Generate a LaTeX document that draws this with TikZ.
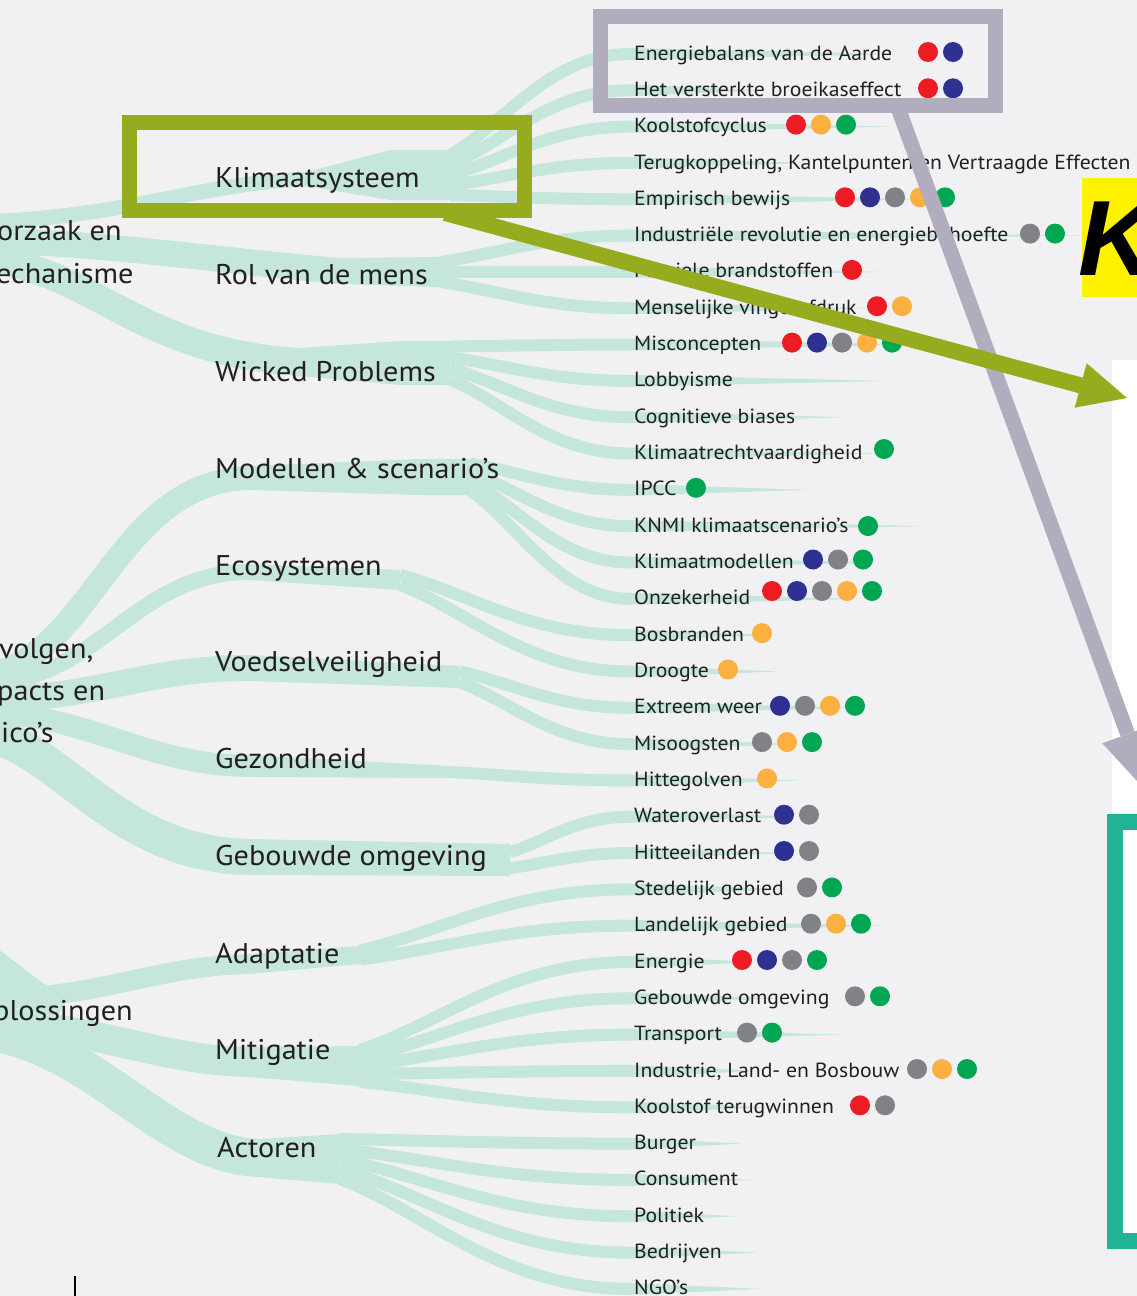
\documentclass[tikz,border=0pt]{standalone}
\usepackage{fontspec}
\setmainfont{PT Sans}[FakeStretch=1.06]
\newfontfamily\kfont{Liberation Sans}
\definecolor{bgc}{HTML}{F1F1F3}
\definecolor{ribc}{HTML}{C5E6DA}
\definecolor{txt}{HTML}{231F20}
\definecolor{dred}{HTML}{ED1C24}
\definecolor{dblue}{HTML}{2E3192}
\definecolor{dgray}{HTML}{808285}
\definecolor{dorange}{HTML}{FBB040}
\definecolor{dgreen}{HTML}{00A651}
\definecolor{olivec}{HTML}{97AB1F}
\definecolor{lavc}{HTML}{B1ADBE}
\definecolor{tealc}{HTML}{20B497}
\begin{document}
\begin{tikzpicture}[x=1pt,y=-1pt,
  rib/.style={draw=ribc, line cap=butt},
  leaf/.style={anchor=base west, inner sep=0pt, text=txt, font=\fontsize{20.5}{24}\selectfont},
  mid/.style={anchor=base west, inner sep=0pt, text=txt, font=\fontsize{28.5}{34}\selectfont},
  rootlbl/.style={anchor=base west, inner sep=0pt, text=txt, font=\fontsize{28.5}{34}\selectfont}]
\useasboundingbox (0,0) rectangle (1137,1296);
\clip (0,0) rectangle (1137,1296);
\fill[bgc] (0,0) rectangle (1137,1296);

% ---------- trunks ----------
\draw[rib, line width=15pt] (-30,222) .. controls (120,220) and (200,182) .. (310,179);
\fill[ribc] (309,171.5) -- (390,150) -- (450,150) -- (450,200) -- (390,200) -- (309,186.5) -- cycle;
\draw[rib, line width=26pt] (-30,240) .. controls (100,242) and (230,262) .. (340,271);
\fill[ribc] (339,258) -- (440,257) -- (440,287) -- (339,284) -- cycle;
\draw[rib, line width=28pt] (-30,258) .. controls (90,262) and (130,352) .. (300,362);
\fill[ribc] (299,348) -- (400,341) -- (450,341) -- (450,385) -- (400,385) -- (299,376) -- cycle;
\draw[rib, line width=24pt] (-30,676) .. controls (90,676) and (110,480) .. (250,478);
\fill[ribc] (249,466) -- (420,459) -- (470,459) -- (470,495) -- (420,495) -- (249,490) -- cycle;
\draw[rib, line width=16pt] (-30,686) .. controls (100,686) and (130,572) .. (250,572);
\fill[ribc] (249,564) -- (400,570) -- (400,590) -- (249,580) -- cycle;
\draw[rib, line width=26pt] (-30,700) .. controls (100,700) and (140,668) .. (250,668);
\fill[ribc] (249,655) -- (460,666) -- (460,688) -- (249,681) -- cycle;
\draw[rib, line width=22pt] (-30,712) .. controls (90,712) and (140,765) .. (250,766);
\fill[ribc] (249,755) -- (450,766) -- (450,778) -- (249,777) -- cycle;
\draw[rib, line width=36pt] (-30,730) .. controls (60,740) and (110,855) .. (250,857);
\fill[ribc] (249,839) -- (510,844) -- (510,876) -- (249,875) -- cycle;
\draw[rib, line width=34pt] (-40,950) .. controls (-10,955) and (20,995) .. (60,1012);
\draw[rib, line width=20pt] (-30,1000) .. controls (100,1000) and (150,966) .. (250,964);
\fill[ribc] (249,954) -- (360,946) -- (360,964) -- (249,974) -- cycle;
\draw[rib, line width=30pt] (-30,1022) .. controls (100,1025) and (150,1060) .. (250,1062);
\fill[ribc] (249,1047) -- (360,1046) -- (360,1086) -- (249,1077) -- cycle;
\draw[rib, line width=38pt] (-30,1030) .. controls (90,1035) and (160,1155) .. (260,1158);
\fill[ribc] (259,1139) -- (340,1134) -- (340,1184) -- (259,1177) -- cycle;

% ---------- leaf ribbons ----------
\foreach \i/\fx/\fy/\tip in {1/450/155/900,2/450/165/760,3/450/175/890,4/450/185/810,5/450/195/930,
  6/440/262/1090,7/440/272/885,8/440/282/870,
  9/450/346.5/905,10/450/357.5/885,11/450/368.5/845,12/450/379.5/880,
  13/470/463.5/807,14/470/472.5/926,15/470/481.5/884,16/470/490.5/860,
  17/400/575/775,18/400/585/779,19/460/671.5/860,20/460/682.5/800,21/450/772/800,
  22/510/852/800,23/510/868/790,24/360/950.5/790,25/360/959.5/884,
  26/360/1050/760,27/360/1058/780,28/360/1066/843,29/360/1074/760,30/360/1082/770,
  31/340/1139/742,32/340/1149/752,33/340/1159/736,34/340/1169/758,35/340/1179/761}{
  \pgfmathsetmacro\cy{52+36.32*(\i-1)+2}
  \draw[rib, line width=12pt] (\fx,\fy) .. controls ({\fx+0.3*(630-\fx)},{\fy+0.3*(\cy-\fy)}) and ({\fx+0.55*(630-\fx)},\cy) .. (630,\cy);
  \fill[ribc] (629,\cy-6) .. controls ({629+0.5*(\tip-629)},\cy-3) .. (\tip,\cy) .. controls ({629+0.5*(\tip-629)},\cy+3) .. (629,\cy+6) -- cycle;
}

% ---------- root labels (cut at the left edge, as in the source) ----------
\node[rootlbl] (ra1) at (-3,240) {\llap{O}orzaak en};
\node[rootlbl] (ra2) at (-4,283) {\llap{m}echanisme};
\node[rootlbl] (rb1) at (-1,658) {\llap{Ge}volgen,};
\node[rootlbl] (rb2) at (-3,700) {\llap{im}pacts en};
\node[rootlbl] (rb3) at (1,742) {\llap{ris}ico’s};
\node[rootlbl] (rc1) at (-7,1020) {\llap{O}plossingen};

% ---------- mid labels ----------
\node[mid] (m1) at (215,187) {Klimaatsysteem};
\node[mid] (m2) at (215,284) {Rol van de mens};
\node[mid] (m3) at (215,381) {Wicked Problems};
\node[mid] (m4) at (215,478) {Modellen \& scenario’s};
\node[mid] (m5) at (215,575) {Ecosystemen};
\node[mid] (m6) at (215,671) {Voedselveiligheid};
\node[mid] (m7) at (215,768) {Gezondheid};
\node[mid] (m8) at (215,865) {Gebouwde omgeving};
\node[mid] (m9) at (215,963) {Adaptatie};
\node[mid] (m10) at (215,1059) {Mitigatie};
\node[mid] (m11) at (217,1157) {Actoren};

% ---------- leaf labels ----------
\node[leaf] (l1) at (634,60) {Energiebalans van de Aarde};
\node[leaf] (l2) at (634,96.3) {Het versterkte broeikaseffect};
\node[leaf] (l3) at (634,132.6) {Koolstofcyclus};
\node[leaf] (l4) at (634,169) {Terugkoppeling, Kantelpunten en Vertraagde Effecten};
\node[leaf] (l5) at (634,205.3) {Empirisch bewijs};
\node[leaf] (l6) at (634,241.6) {Industriële revolutie en energiebehoefte};
\node[leaf] (l7) at (634,277.9) {Fossiele brandstoffen};
\node[leaf] (l8) at (634,314.2) {Menselijke vingerafdruk};
\node[leaf] (l9) at (634,350.6) {Misconcepten};
\node[leaf] (l10) at (634,386.9) {Lobbyisme};
\node[leaf] (l11) at (634,423.2) {Cognitieve biases};
\node[leaf] (l12) at (634,459.5) {Klimaatrechtvaardigheid};
\node[leaf] (l13) at (634,495.8) {IPCC};
\node[leaf] (l14) at (634,532.2) {KNMI klimaatscenario’s};
\node[leaf] (l15) at (634,568.5) {Klimaatmodellen};
\node[leaf] (l16) at (634,604.8) {Onzekerheid};
\node[leaf] (l17) at (634,641.1) {Bosbranden};
\node[leaf] (l18) at (634,677.4) {Droogte};
\node[leaf] (l19) at (634,713.8) {Extreem weer};
\node[leaf] (l20) at (634,750.1) {Misoogsten};
\node[leaf] (l21) at (634,786.4) {Hittegolven};
\node[leaf] (l22) at (634,822.7) {Wateroverlast};
\node[leaf] (l23) at (634,859) {Hitteeilanden};
\node[leaf] (l24) at (634,895.4) {Stedelijk gebied};
\node[leaf] (l25) at (634,931.7) {Landelijk gebied};
\node[leaf] (l26) at (634,968) {Energie};
\node[leaf] (l27) at (634,1004.3) {Gebouwde omgeving};
\node[leaf] (l28) at (634,1040.6) {Transport};
\node[leaf] (l29) at (634,1077) {Industrie, Land- en Bosbouw};
\node[leaf] (l30) at (634,1113.3) {Koolstof terugwinnen};
\node[leaf] (l31) at (634,1149.6) {Burger};
\node[leaf] (l32) at (634,1185.9) {Consument};
\node[leaf] (l33) at (634,1222.2) {Politiek};
\node[leaf] (l34) at (634,1258.6) {Bedrijven};
\node[leaf] (l35) at (634,1294.9) {NGO’s};

% ---------- dots ----------
\foreach \y/\x/\c in {52/928/dred,52/953/dblue,88.3/928/dred,88.3/953/dblue,
  124.6/796/dred,124.6/821/dorange,124.6/846/dgreen,
  197.3/845/dred,197.3/870/dblue,197.3/895/dgray,197.3/920/dorange,197.3/945/dgreen,
  233.6/1030/dgray,233.6/1055/dgreen,269.9/852/dred,306.2/877/dred,306.2/902/dorange,
  342.6/792/dred,342.6/817/dblue,342.6/842/dgray,342.6/867/dorange,342.6/892/dgreen,
  449/884/dgreen,487.8/696/dgreen,526/868/dgreen,
  559.5/813/dblue,559.5/838/dgray,559.5/863/dgreen,
  591/772/dred,591/797/dblue,591/822/dgray,591/847/dorange,591/872/dgreen,
  633.1/762/dorange,669.4/728/dorange,
  705.8/780/dblue,705.8/805/dgray,705.8/830/dorange,705.8/855/dgreen,
  742.1/762/dgray,742.1/787/dorange,742.1/812/dgreen,778.4/767/dorange,
  814.7/784/dblue,814.7/809/dgray,851/784/dblue,851/809/dgray,
  887.4/807/dgray,887.4/832/dgreen,923.7/811/dgray,923.7/836/dorange,923.7/861/dgreen,
  960/742/dred,960/767/dblue,960/792/dgray,960/817/dgreen,
  996.3/855/dgray,996.3/880/dgreen,1032.6/747/dgray,1032.6/772/dgreen,
  1069/917/dgray,1069/942/dorange,1069/967/dgreen,1105.3/860/dred,1105.3/885/dgray}{
  \fill[\c] (\x,\y) circle (10pt);
}

% ---------- right side panels ----------
\fill[white] (1112,360) rectangle (1137,814);
\fill[white] (1107,814) rectangle (1137,1249);
\draw[tealc, line width=16pt] (1115,822) rectangle (1170,1241);
\fill[yellow] (1082,178) rectangle (1137,297);
\node[anchor=base west, inner sep=0pt, text=black, font=\kfont\fontsize{107}{110}\selectfont\bfseries\itshape] (kk) at (1078,275) {K};

% small tick
\coordinate (t1) at (75,1276);
\coordinate (t2) at (75,1296);
\draw[black, line width=1.5pt] (t1) -- (t2);

% ---------- gray box and arrow ----------
\draw[lavc, line width=15pt] (600,16) rectangle (995,105);
\coordinate (gs) at (897,105);
\coordinate (gb) at (1127.6,734);
\coordinate (gt) at (1150,795);
\draw[lavc, line width=15pt] (gs) -- (gb);
\fill[lavc] (gt) -- (1153,724.7) -- (1102.3,743.3) -- cycle;

% ---------- olive box and arrow ----------
\draw[olivec, line width=15pt] (129.5,122) rectangle (524,210.5);
\coordinate (os) at (445,213);
\coordinate (ob) at (1081,385.5);
\coordinate (ot) at (1127,398);
\draw[olivec, line width=16pt] (os) -- (ob);
\fill[olivec] (ot) -- (1086.7,363.3) -- (1074.7,407.7) -- cycle;
\end{tikzpicture}
\end{document}
